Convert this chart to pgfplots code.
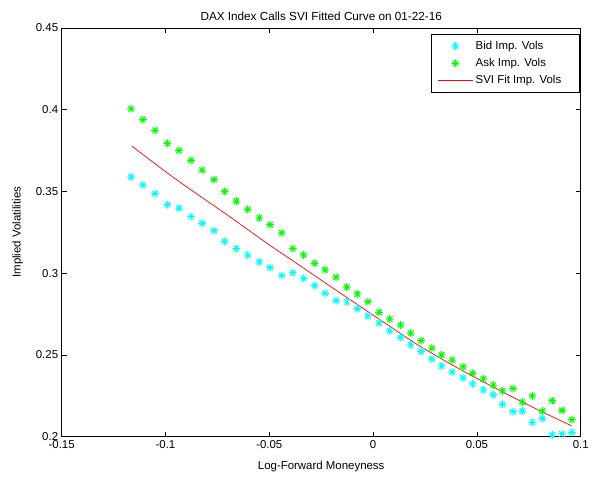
\documentclass[border=0pt]{standalone}
\usepackage{pgfplots}
\pgfplotsset{compat=1.18}
\usepackage{fontspec}
\setmainfont{Liberation Sans}
\definecolor{mcyan}{rgb}{0,1,1}
\definecolor{mgreen}{rgb}{0,1,0}
\definecolor{mred}{rgb}{1,0,0}
\pgfdeclareplotmark{mstar}{%
  \pgfpathmoveto{\pgfqpoint{-\pgfplotmarksize}{0pt}}%
  \pgfpathlineto{\pgfqpoint{\pgfplotmarksize}{0pt}}%
  \pgfpathmoveto{\pgfqpoint{0pt}{-\pgfplotmarksize}}%
  \pgfpathlineto{\pgfqpoint{0pt}{\pgfplotmarksize}}%
  \pgfpathmoveto{\pgfqpoint{-0.707\pgfplotmarksize}{-0.707\pgfplotmarksize}}%
  \pgfpathlineto{\pgfqpoint{0.707\pgfplotmarksize}{0.707\pgfplotmarksize}}%
  \pgfpathmoveto{\pgfqpoint{-0.707\pgfplotmarksize}{0.707\pgfplotmarksize}}%
  \pgfpathlineto{\pgfqpoint{0.707\pgfplotmarksize}{-0.707\pgfplotmarksize}}%
  \pgfusepathqstroke}
\pgfplotsset{
  legmark/.style={legend image code/.code={\draw[##1] plot coordinates {(18pt,0pt)};}},
  legline/.style={legend image code/.code={\draw[##1] (0pt,0pt) -- (36pt,0pt);}},
}
\pgfplotstableread{
x y
-0.1166 0.3588
-0.1109 0.3539
-0.1050 0.3486
-0.0991 0.3419
-0.0935 0.3397
-0.0877 0.3346
-0.0823 0.3304
-0.0766 0.3259
-0.0715 0.3194
-0.0659 0.3150
-0.0604 0.3110
-0.0548 0.3069
-0.0496 0.3033
-0.0440 0.2985
-0.0387 0.3002
-0.0335 0.2967
-0.0282 0.2923
-0.0231 0.2876
-0.0178 0.2832
-0.0127 0.2823
-0.0076 0.2783
-0.0025 0.2738
0.0029 0.2695
0.0080 0.2647
0.0133 0.2606
0.0181 0.2561
0.0231 0.2521
0.0283 0.2474
0.0330 0.2432
0.0381 0.2395
0.0433 0.2359
0.0479 0.2322
0.0531 0.2286
0.0579 0.2256
0.0623 0.2197
0.0674 0.2152
0.0719 0.2156
0.0767 0.2087
0.0815 0.2111
0.0863 0.2010
0.0910 0.2016
0.0957 0.2026
}\bidtable
\pgfplotstableread{
x y
-0.1166 0.4005
-0.1109 0.3939
-0.1050 0.3873
-0.0991 0.3793
-0.0935 0.3750
-0.0877 0.3689
-0.0823 0.3630
-0.0766 0.3572
-0.0715 0.3499
-0.0659 0.3440
-0.0604 0.3389
-0.0548 0.3338
-0.0496 0.3296
-0.0440 0.3246
-0.0387 0.3150
-0.0335 0.3111
-0.0282 0.3060
-0.0231 0.3020
-0.0178 0.2975
-0.0127 0.2914
-0.0076 0.2872
-0.0025 0.2825
0.0029 0.2760
0.0080 0.2719
0.0133 0.2681
0.0181 0.2633
0.0231 0.2587
0.0283 0.2541
0.0330 0.2499
0.0381 0.2468
0.0433 0.2426
0.0479 0.2387
0.0531 0.2353
0.0579 0.2314
0.0623 0.2280
0.0674 0.2294
0.0719 0.2211
0.0767 0.2249
0.0815 0.2156
0.0863 0.2219
0.0910 0.2160
0.0957 0.2103
}\asktable
\pgfplotstableread{
x y
-0.1163 0.3778
-0.0951 0.3575
-0.0695 0.3349
-0.0504 0.3176
-0.0360 0.3052
-0.0121 0.2846
0.0087 0.2669
0.0215 0.2561
0.0406 0.2420
0.0622 0.2274
0.0813 0.2152
0.0957 0.2065
}\fittable
\begin{document}
\begin{tikzpicture}
\begin{axis}[
  name=ax,
  scale only axis,
  width=522pt, height=411pt,
  xmin=-0.15, xmax=0.1, ymin=0.2, ymax=0.45,
  xtick={-0.15,-0.1,-0.05,0,0.05,0.1},
  xticklabels={-0.15,-0.1,-0.05,0,0.05,0.1},
  ytick={0.2,0.25,0.3,0.35,0.4,0.45},
  yticklabels={0.2,0.25,0.3,0.35,0.4,0.45},
  tick align=inside,
  major tick length=5pt,
  tick style={black, line width=0.6pt},
  axis line style={black, line width=0.6pt},
  every tick label/.append style={font=\fontsize{11.5}{13}\selectfont},
  label style={font=\fontsize{11.5}{13}\selectfont},
  title style={font=\fontsize{11.8}{13}\selectfont, yshift=-2pt},
  title={DAX Index Calls SVI Fitted Curve on 01-22-16},
  xlabel={Log-Forward Moneyness},
  ylabel={Implied Volatilities},
  ylabel style={yshift=6pt},
  xlabel style={yshift=-6pt},
  legend style={at={(rel axis cs:0.9975,0.985)}, anchor=north east,
    draw=black, line width=0.6pt, font=\fontsize{11.5}{13}\selectfont,
    row sep=3.5pt, inner xsep=6pt, inner ysep=5pt},
  legend cell align=left,
]
\addplot[only marks, color=mcyan, mark=mstar, mark size=4pt, line width=1pt, legmark] table {\bidtable};
\addlegendentry{Bid Imp. Vols}
\addplot[only marks, color=mgreen, mark=mstar, mark size=4pt, line width=1pt, legmark] table {\asktable};
\addlegendentry{Ask Imp. Vols}
\addplot[mred, line width=0.7pt, smooth, tension=0.5, legline] table {\fittable};
\addlegendentry{SVI Fit Imp. Vols\hspace*{10pt}}
\coordinate (bl) at (rel axis cs:0,0);
\end{axis}
\path (bl) ++(-62pt,-40pt) rectangle ++(592pt,479pt);
\end{tikzpicture}
\end{document}
